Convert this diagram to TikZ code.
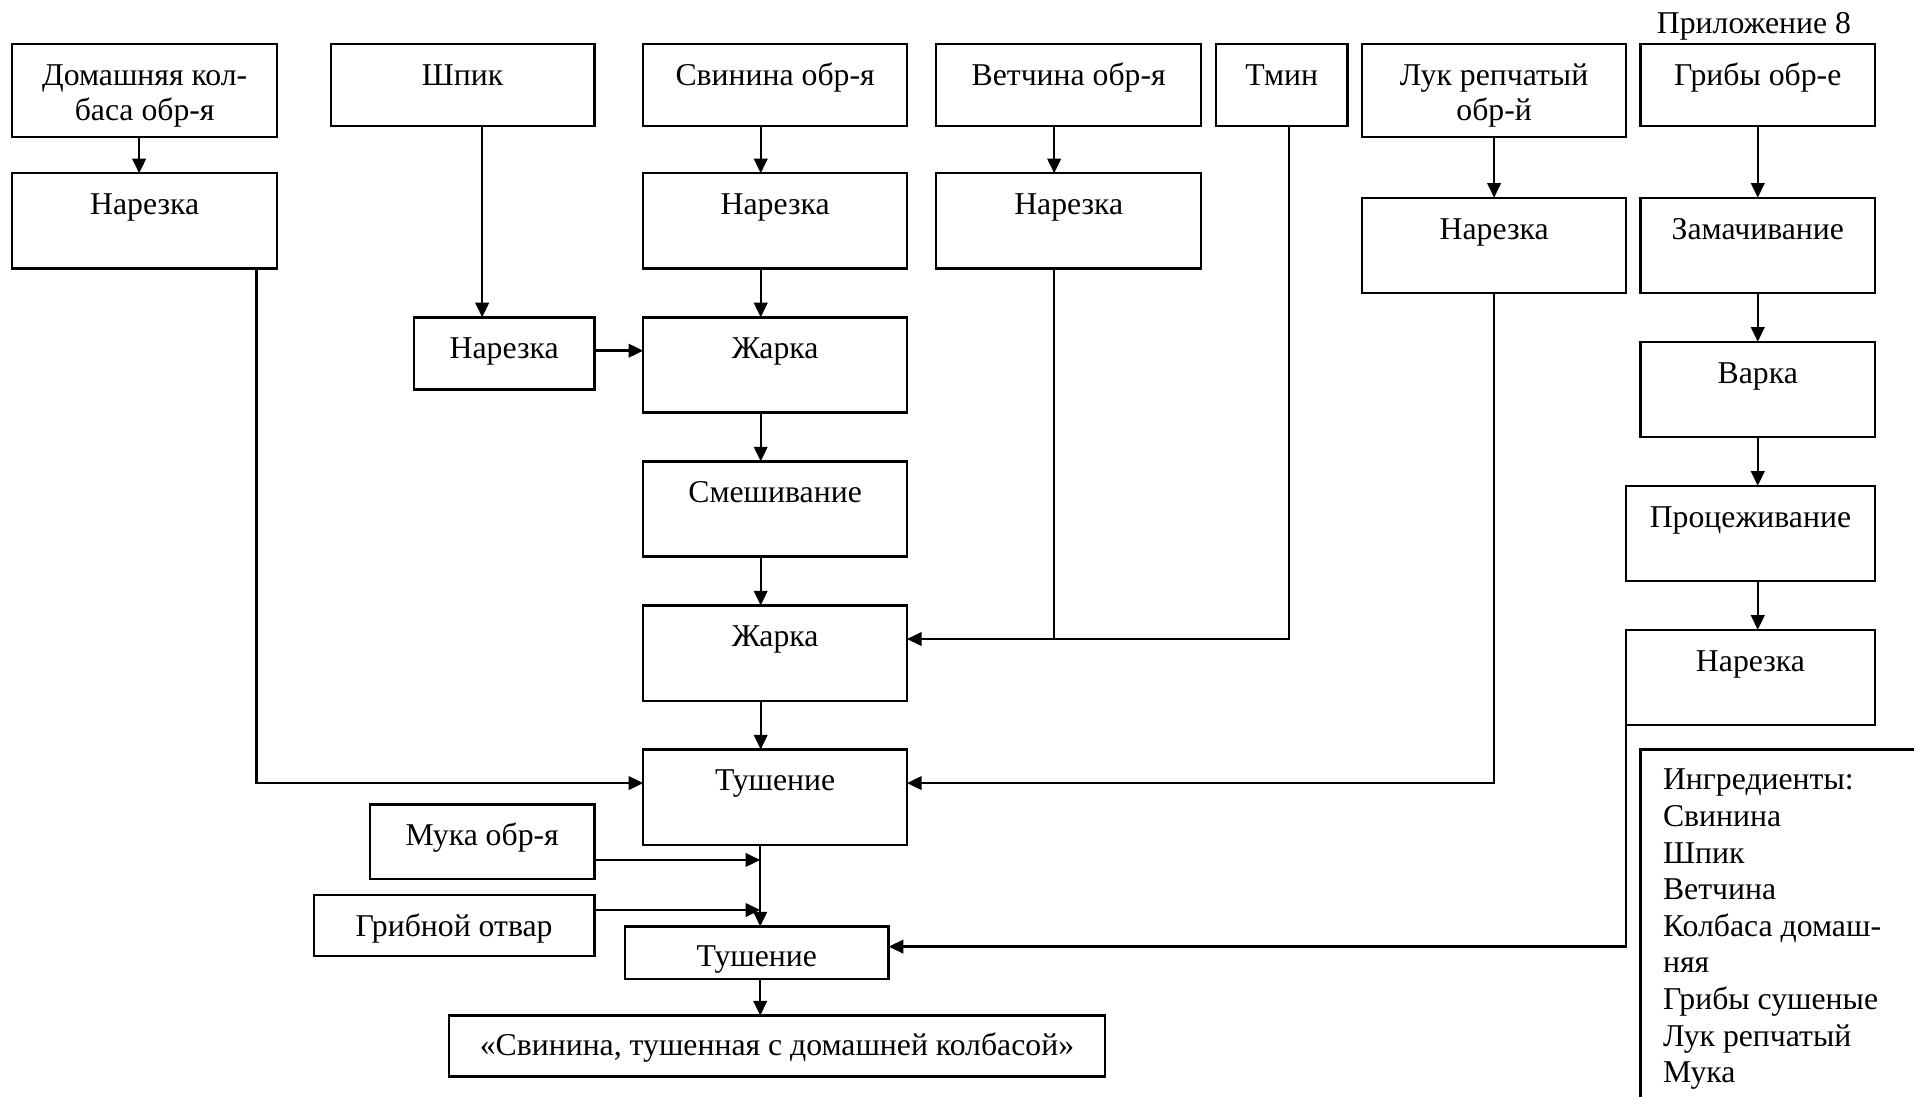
\documentclass[tikz,border=0pt]{standalone}
\usepackage{fontspec}
\setmainfont{Liberation Serif}
\usetikzlibrary{arrows.meta}
\tikzset{
  box/.style={draw, line width=0.95pt, rectangle, inner sep=0pt, outer sep=0pt},
  lbl/.style={anchor=north, inner sep=0pt, align=center, font=\fontsize{13}{14.5}\selectfont},
  arr/.style={line width=1pt, -{Triangle[length=6pt,width=5.5pt]}},
  thinln/.style={line width=0.7pt},
  plain/.style={inner sep=0pt, font=\fontsize{13}{15}\selectfont},
}
\newcommand\tstrut{\rule{0pt}{10pt}}
\begin{document}
\begin{tikzpicture}[x=0.5pt,y=-0.5pt]
\useasboundingbox (0,0) rectangle (1568,898);

% boxes
\node[box, minimum width=108.5pt, minimum height=38pt]   (b1)  at (118.5,74) {};
\node[box, minimum width=108.5pt, minimum height=39pt]   (b2)  at (118.5,181) {};
\node[box, minimum width=108pt,   minimum height=33.5pt] (b3)  at (379,69.5) {};
\node[box, minimum width=74pt,    minimum height=29.5pt] (b4)  at (413,289.5) {};
\node[box, minimum width=108pt,   minimum height=33.5pt] (b5)  at (635,69.5) {};
\node[box, minimum width=108pt,   minimum height=39pt]   (b6)  at (635,181) {};
\node[box, minimum width=108pt,   minimum height=39pt]   (b7)  at (635,299) {};
\node[box, minimum width=108pt,   minimum height=39pt]   (b8)  at (635,417) {};
\node[box, minimum width=108pt,   minimum height=39pt]   (b9)  at (635,535) {};
\node[box, minimum width=108pt,   minimum height=39pt]   (b10) at (635,653) {};
\node[box, minimum width=92pt,    minimum height=30.5pt] (b11) at (395,689.5) {};
\node[box, minimum width=115pt,   minimum height=25pt]   (b12) at (372,758) {};
\node[box, minimum width=108pt,   minimum height=21.5pt] (b13) at (620,780.5) {};
\node[box, minimum width=268.5pt, minimum height=25pt]   (b14) at (636.5,857) {};
\node[box, minimum width=108.5pt, minimum height=33.5pt] (b15) at (875.5,69.5) {};
\node[box, minimum width=108.5pt, minimum height=39pt]   (b16) at (875.5,181) {};
\node[box, minimum width=54pt,    minimum height=33.5pt] (b17) at (1050,69.5) {};
\node[box, minimum width=108pt,   minimum height=38pt]   (b18) at (1224,74) {};
\node[box, minimum width=108pt,   minimum height=39pt]   (b19) at (1224,201) {};
\node[box, minimum width=96pt,    minimum height=33.5pt] (b20) at (1440,69.5) {};
\node[box, minimum width=96pt,    minimum height=39pt]   (b21) at (1440,201) {};
\node[box, minimum width=96pt,    minimum height=39pt]   (b22) at (1440,319) {};
\node[box, minimum width=102pt,   minimum height=39pt]   (b23) at (1434,437) {};
\node[box, minimum width=102pt,   minimum height=39pt]   (b24) at (1434,555) {};
\begin{scope}
\clip (0,0) rectangle (1568,898);
\node[box, anchor=north west, minimum width=150pt, minimum height=200pt] (b25) at (1344,614) {};
\end{scope}

% labels
\node[lbl] (t1)  at ([yshift=-6.75pt]b1.north)  {\tstrut Домашняя кол-\\баса обр-я};
\node[lbl] (t2)  at ([yshift=-6.75pt]b2.north)  {\tstrut Нарезка};
\node[lbl] (t3)  at ([yshift=-6.75pt]b3.north)  {\tstrut Шпик};
\node[lbl] (t4)  at ([yshift=-6.75pt]b4.north)  {\tstrut Нарезка};
\node[lbl] (t5)  at ([yshift=-6.75pt]b5.north)  {\tstrut Свинина обр-я};
\node[lbl] (t6)  at ([yshift=-6.75pt]b6.north)  {\tstrut Нарезка};
\node[lbl] (t7)  at ([yshift=-6.75pt]b7.north)  {\tstrut Жарка};
\node[lbl] (t8)  at ([yshift=-6.75pt]b8.north)  {\tstrut Смешивание};
\node[lbl] (t9)  at ([yshift=-6.75pt]b9.north)  {\tstrut Жарка};
\node[lbl] (t10) at ([yshift=-6.75pt]b10.north) {\tstrut Тушение};
\node[lbl] (t11) at ([yshift=-6.75pt]b11.north) {\tstrut Мука обр-я};
\node[lbl] (t12) at ([yshift=-6.75pt]b12.north) {\tstrut Грибной отвар};
\node[lbl] (t13) at ([yshift=-6.25pt]b13.north) {\tstrut Тушение};
\node[lbl] (t14) at ([yshift=-6.25pt]b14.north) {\tstrut «Свинина, тушенная с домашней колбасой»};
\node[lbl] (t15) at ([yshift=-6.75pt]b15.north) {\tstrut Ветчина обр-я};
\node[lbl] (t16) at ([yshift=-6.75pt]b16.north) {\tstrut Нарезка};
\node[lbl] (t17) at ([yshift=-6.75pt]b17.north) {\tstrut Тмин};
\node[lbl] (t18) at ([yshift=-6.75pt]b18.north) {\tstrut Лук репчатый\\обр-й};
\node[lbl] (t19) at ([yshift=-6.75pt]b19.north) {\tstrut Нарезка};
\node[lbl] (t20) at ([yshift=-6.75pt]b20.north) {\tstrut Грибы обр-е};
\node[lbl] (t21) at ([yshift=-6.75pt]b21.north) {\tstrut Замачивание};
\node[lbl] (t22) at ([yshift=-6.75pt]b22.north) {\tstrut Варка};
\node[lbl] (t23) at ([yshift=-6.75pt]b23.north) {\tstrut Процеживание};
\node[lbl] (t24) at ([yshift=-6.75pt]b24.north) {\tstrut Нарезка};
\node[plain, anchor=north west, align=left] (ing) at (1362,626.6)
  {\tstrut Ингредиенты:\\Свинина\\Шпик\\Ветчина\\Колбаса домаш-\\няя\\Грибы сушеные\\Лук репчатый\\Мука};
\node[plain, anchor=base west] (app) at (1357,27.4) {Приложение 8};

% connectors: column 1
\draw[arr] ([xshift=-2.25pt]b1.south) -- ([xshift=-2.25pt]b2.north);
\coordinate (j10l) at ([yshift=5.75pt]b10.west);
\draw[arr] ([xshift=45.9pt]b2.south) |- (j10l);
% Шпик
\coordinate (s1) at ([xshift=8pt]b3.south);
\draw[arr] (s1) -- (s1 |- b4.north);
\coordinate (j7) at ([yshift=1.1pt]b4.east);
\draw[arr] (j7) -- (j7 -| b7.west);
% main column
\coordinate (m5) at ([xshift=-5.9pt]b5.south);
\draw[arr] (m5) -- (m5 |- b6.north);
\coordinate (m6) at ([xshift=-5.9pt]b6.south);
\draw[arr] (m6) -- (m6 |- b7.north);
\coordinate (m7) at ([xshift=-5.9pt]b7.south);
\draw[arr] (m7) -- (m7 |- b8.north);
\coordinate (m8) at ([xshift=-5.9pt]b8.south);
\draw[arr] (m8) -- (m8 |- b9.north);
\coordinate (m9) at ([xshift=-5.9pt]b9.south);
\draw[arr] (m9) -- (m9 |- b10.north);
\coordinate (m10) at ([xshift=-6.1pt]b10.south);
\draw[arr] (m10) -- (m10 |- b13.north);
\coordinate (j11) at ([yshift=-7.5pt]b11.east);
\draw[arr] (j11) -- (j11 -| m10);
\coordinate (j12) at ([yshift=6.25pt]b12.east);
\draw[arr] (j12) -- (j12 -| m10);
\coordinate (m13) at ([xshift=1.4pt]b13.south);
\draw[arr] (m13) -- (m13 |- b14.north);
% Ветчина and Тмин
\coordinate (v15) at ([xshift=-5.95pt]b15.south);
\draw[arr] (v15) -- (v15 |- b16.north);
\coordinate (j9) at ([yshift=5.75pt]b9.east);
\coordinate (v16) at ([xshift=-5.95pt]b16.south);
\draw[thinln] (v16) -- (v16 |- j9);
\draw[arr] ([xshift=3pt]b17.south) |- (j9);
% Лук
\draw[arr] (b18.south) -- (b19.north);
\coordinate (j10r) at ([yshift=5.75pt]b10.east);
\draw[arr] (b19.south) |- (j10r);
% Грибы
\draw[arr] (b20.south) -- (b21.north);
\draw[arr] (b21.south) -- (b22.north);
\draw[arr] (b22.south) -- (b22.south |- b23.north);
\draw[arr] ([xshift=3pt]b23.south) -- ([xshift=3pt]b24.north);
\coordinate (j13) at ([yshift=2.5pt]b13.east);
\draw[arr] (b24.south west) |- (j13);
\end{tikzpicture}
\end{document}
